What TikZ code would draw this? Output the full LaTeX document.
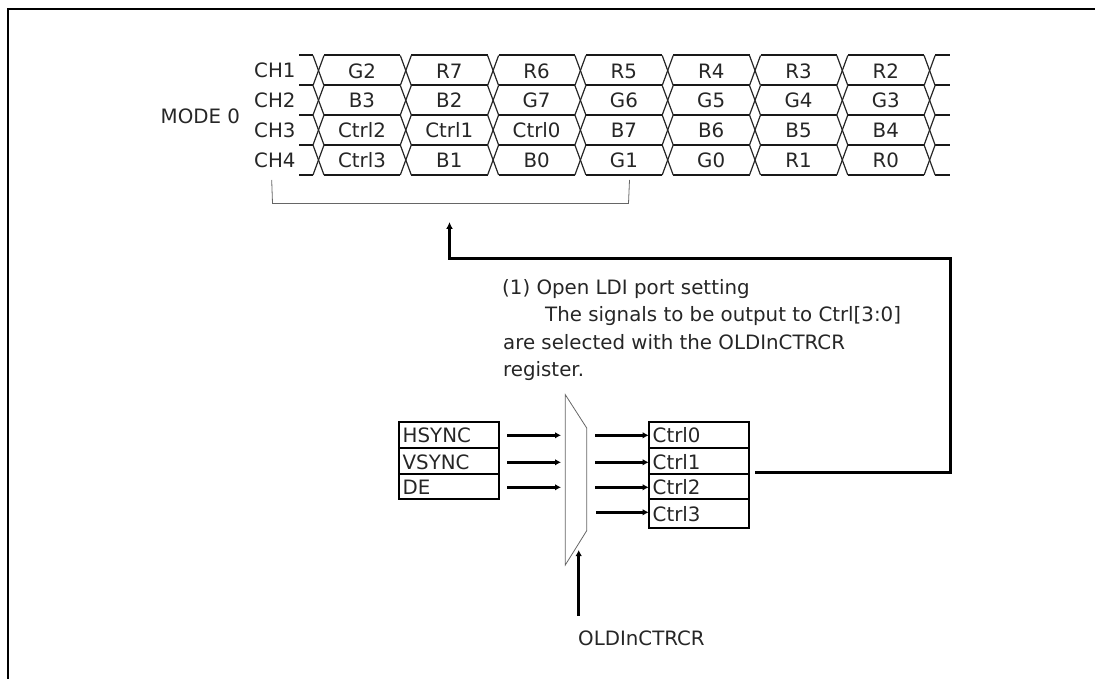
\documentclass[tikz,border=0pt]{standalone}
\usepackage{fontspec}
\setmainfont{DejaVu Sans}
\usetikzlibrary{arrows.meta}
\tikzset{
  x=1pt,y=-1pt,
  txt/.style={inner sep=0pt,font=\fontsize{19.8}{22}\selectfont,text=black!85},
  lvl/.style={line width=2pt,black!90},
  crs/.style={line width=1.2pt,black!85},
  frm/.style={line width=2pt,black},
  sig/.style={draw,line width=1.8pt,inner xsep=4pt,inner ysep=0pt,anchor=north west,
    font=\fontsize{19.8}{22}\selectfont,text=black!85,text width=92.3pt,align=left,outer sep=0pt},
  arr/.style={line width=2.6pt,-{Latex[length=6pt,width=6.5pt]}},
  cable/.style={line width=3pt},
  thin gray/.style={line width=0.8pt,black!60}
}
\begin{document}
\begin{tikzpicture}
\useasboundingbox (0,0) rectangle (1095,679);
% frame
\coordinate (fa) at (8.3,679); \coordinate (fb) at (8.3,9.3); \coordinate (fc) at (1095,9.3);
\draw[frm] (fa) -- (fb) -- (fc);
% waveform
\def\ya{55.5}\def\yb{85.5}\def\yc{115}\def\yd{145}\def\ye{175}
\foreach \y in {\ya,\yb,\yc,\yd,\ye}{
  \draw[lvl] (299,\y) -- (313,\y);
  \foreach \i in {0,...,6}{
    \draw[lvl] ({313+87.3*\i+11},\y) -- ({313+87.3*(\i+1)},\y);
  }
  \draw[lvl] (935,\y) -- (950,\y);
}
\foreach \i in {0,...,7}{
  \foreach \t/\b in {\ya/\yb,\yb/\yc,\yc/\yd,\yd/\ye}{
    \draw[crs] ({313+87.3*\i},\t) -- ({324+87.3*\i},\b);
    \draw[crs] ({324+87.3*\i},\t) -- ({313+87.3*\i},\b);
  }
}
% channel names
\node[txt,anchor=base west] (ch1) at (254,78) {CH1};
\node[txt,anchor=base west] (ch2) at (254,108) {CH2};
\node[txt,anchor=base west] (ch3) at (254,138) {CH3};
\node[txt,anchor=base west] (ch4) at (254,168) {CH4};
\node[txt,anchor=base west] (mode) at (160.5,123.3) {MODE 0};
% cell labels
\foreach \r/\yy/\lst in {
  a/78.3/{G2,R7,R6,R5,R4,R3,R2},
  b/108/{B3,B2,G7,G6,G5,G4,G3},
  c/138/{Ctrl2,Ctrl1,Ctrl0,B7,B6,B5,B4},
  d/168/{Ctrl3,B1,B0,G1,G0,R1,R0}}{
  \foreach \s [count=\n from 0] in \lst {
    \node[txt,anchor=base] (cell\r\n) at ({362+87.3*\n},\yy) {\s};
  }
}
% bracket
\coordinate (ba) at (271.7,180); \coordinate (bb) at (272.5,203.5);
\coordinate (bc) at (628.5,203.5); \coordinate (bd) at (629.5,180);
\draw[thin gray] (ba) -- (bb) -- (bc) -- (bd);
% text
\node[txt,anchor=base west] (t1) at (502,294) {(1) Open LDI port setting};
\node[txt,anchor=base west] (t2) at (545,321.7) {The signals to be output to Ctrl[3:0]};
\node[txt,anchor=base west] (t3) at (503,349) {are selected with the OLDInCTRCR};
\node[txt,anchor=base west] (t4) at (503,376) {register.};
% input boxes
\node[sig,text height=20.6pt,text depth=6pt] (hs) at (398.7,421.7) {HSYNC};
\node[sig,text height=21pt,text depth=4.7pt] (vs) at (398.7,448.3) {VSYNC};
\node[sig,text height=20pt,text depth=5pt] (de) at (398.7,474) {DE};
% output boxes
\node[sig,text height=20.6pt,text depth=6pt] (c0) at (648.7,421.7) {Ctrl0};
\node[sig,text height=21pt,text depth=4.7pt] (c1) at (648.7,448.3) {Ctrl1};
\node[sig,text height=20pt,text depth=5pt] (c2) at (648.7,474) {Ctrl2};
\node[sig,text height=22pt,text depth=6.7pt] (c3) at (648.7,499) {Ctrl3};
% multiplexer
\coordinate (ma) at (565.3,394.7); \coordinate (mb) at (586.7,428);
\coordinate (mc) at (586.7,530.7); \coordinate (md) at (565.3,565);
\draw[thin gray] (ma) -- (mb) -- (mc) -- (md) -- cycle;
% mux inputs
\coordinate (i0) at (561,435.3); \coordinate (i1) at (561,462.3); \coordinate (i2) at (561,487.3);
\draw[arr] (i0 -| hs.east) ++(8.3,0) -- (i0);
\draw[arr] (i1 -| vs.east) ++(8.3,0) -- (i1);
\draw[arr] (i2 -| de.east) ++(8.3,0) -- (i2);
% mux outputs
\coordinate (o0) at (595,435.3); \coordinate (o1) at (595,462.3);
\coordinate (o2) at (595,487.3); \coordinate (o3) at (596,512.3);
\draw[arr] (o0) -- (o0 -| c0.west);
\draw[arr] (o1) -- (o1 -| c1.west);
\draw[arr] (o2) -- (o2 -| c2.west);
\draw[arr] (o3) -- (o3 -| c3.west);
% control
\node[txt,anchor=base west] (reg) at (578,645) {OLDInCTRCR};
\coordinate (ctl) at (578.7,615.7); \coordinate (ctt) at (578.7,550);
\draw[arr,line width=3pt] (ctl) -- (ctt);
% feedback
\coordinate (fs) at (755,472.5); \coordinate (f1) at (950,472.5);
\coordinate (f2) at (950,258); \coordinate (f3) at (449.5,258); \coordinate (f4) at (449.5,222);
\draw[cable,-{Latex[length=7pt,width=7pt]},line join=miter] (fs) -- (f1) -- (f2) -- (f3) -- (f4);
\end{tikzpicture}
\end{document}
